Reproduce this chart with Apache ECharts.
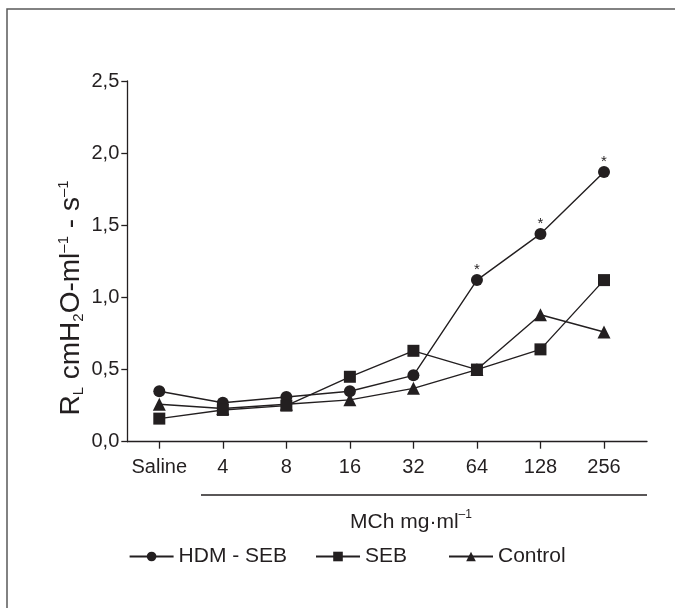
<!DOCTYPE html>
<html>
<head>
<meta charset="utf-8">
<script src="https://cdn.jsdelivr.net/npm/echarts@6/dist/echarts.min.js"></script>
<style>html,body{margin:0;padding:0;background:#fff}#c{width:675px;height:608px}</style>
</head>
<body>
<div id="c"></div>
<script>
const categories = ['Saline', '4', '8', '16', '32', '64', '128', '256'];
const hdmSeb = [0.35, 0.27, 0.31, 0.35, 0.46, 1.12, 1.44, 1.87];
const seb = [0.16, 0.22, 0.25, 0.45, 0.63, 0.50, 0.64, 1.12];
const control = [0.26, 0.23, 0.26, 0.29, 0.37, 0.50, 0.88, 0.76];
const significance = ['', '', '', '', '', '*', '*', '*'];
const seriesNames = ['HDM - SEB', 'SEB', 'Control'];

const FONT = 'Liberation Sans, Arial, Helvetica, sans-serif';
const INK = '#231f20';
const chart = echarts.init(document.getElementById('c'), null, {renderer: 'canvas'});

function mkSeries(name, data, symbol, size, z) {
  return {
    name: name, type: 'line', xAxisIndex: 0, yAxisIndex: 0,
    data: data, symbol: symbol, symbolSize: size, z: z,
    lineStyle: {color: INK, width: 1.4},
    itemStyle: {color: INK, borderWidth: 0},
    animation: false
  };
}

const s1 = mkSeries(seriesNames[0], hdmSeb, 'circle', 12, 3);
s1.label = {
  show: true, position: 'top', distance: -3, color: INK, fontSize: 15, fontFamily: FONT,
  formatter: p => significance[p.dataIndex]
};
const s2 = mkSeries(seriesNames[1], seb, 'rect', 12, 4);
const s3 = mkSeries(seriesNames[2], control, 'triangle', 13, 2);

const legendBase = {
  itemWidth: 44, itemHeight: 12, top: 546, padding: 0,
  textStyle: {fontSize: 21, fontFamily: FONT, color: INK}
};

chart.setOption({
  animation: false,
  grid: [
    {left: 159.3, right: 71, top: 81, bottom: 166.3},
    {left: 127.3, right: 28, top: 81, bottom: 166.3}
  ],
  xAxis: [
    {
      type: 'category', gridIndex: 0, data: categories, boundaryGap: false,
      axisLine: {show: false},
      axisTick: {show: true, length: 7, interval: 0, lineStyle: {color: INK, width: 1.3}},
      axisLabel: {fontSize: 20, fontFamily: FONT, color: INK, margin: 16, interval: 0}
    },
    {
      type: 'value', gridIndex: 1, min: 0, max: 1,
      axisLine: {show: true, lineStyle: {color: INK, width: 1.3}},
      axisTick: {show: false}, axisLabel: {show: false}, splitLine: {show: false}
    }
  ],
  yAxis: [
    {
      type: 'value', gridIndex: 0, min: 0, max: 2.5, interval: 0.5, offset: 32,
      axisLine: {show: true, lineStyle: {color: INK, width: 1.3}},
      axisTick: {show: true, length: 6, lineStyle: {color: INK, width: 1.3}},
      splitLine: {show: false},
      axisLabel: {fontSize: 20, fontFamily: FONT, color: INK, margin: 8,
        formatter: v => v.toFixed(1).replace('.', ',')}
    },
    {type: 'value', gridIndex: 1, show: false, min: 0, max: 1}
  ],
  legend: [
    Object.assign({}, legendBase, {left: 128.6, data: [seriesNames[0]]}),
    Object.assign({}, legendBase, {left: 315, data: [seriesNames[1]]}),
    Object.assign({}, legendBase, {left: 448, data: [seriesNames[2]]})
  ],
  graphic: [
    {type: 'polyline', silent: true, shape: {points: [[7, 610], [7, 9], [678, 9]]},
     style: {stroke: '#5a5a5a', lineWidth: 1.5, fill: null}},
    {type: 'line', silent: true, shape: {x1: 201, y1: 495, x2: 647, y2: 495},
     style: {stroke: INK, lineWidth: 1.3}},
    {type: 'text', silent: true, x: 411, y: 522,
     style: {text: '{m|MCh mg·ml}{sup|–1}', align: 'center', verticalAlign: 'middle',
       rich: {
         m: {fontSize: 21, fontFamily: FONT, fill: INK, lineHeight: 26},
         sup: {fontSize: 12, fontFamily: FONT, fill: INK, lineHeight: 12, verticalAlign: 'top'}
       }}},
    {type: 'text', silent: true, x: 71, y: 298, rotation: Math.PI / 2,
     style: {text: '{m|R}{sub|L}{m| cmH}{sub|2}{m|O-ml}{sup|–1}{m| - s}{sup|–1}',
       align: 'center', verticalAlign: 'middle',
       rich: {
         m: {fontSize: 28, fontFamily: FONT, fill: INK, lineHeight: 30},
         sub: {fontSize: 15, fontFamily: FONT, fill: INK, lineHeight: 15, verticalAlign: 'bottom'},
         sup: {fontSize: 15, fontFamily: FONT, fill: INK, lineHeight: 15, verticalAlign: 'top'}
       }}}
  ],
  series: [s1, s2, s3]
});
</script>
</body>
</html>
